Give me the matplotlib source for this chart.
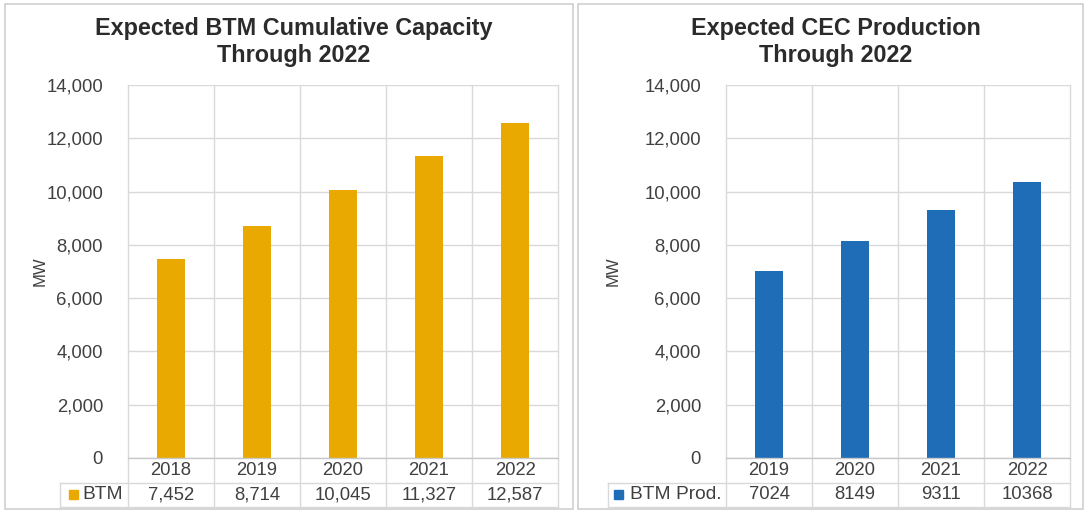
import matplotlib
matplotlib.use("Agg")
import matplotlib.pyplot as plt
from matplotlib.patches import Rectangle
from matplotlib.transforms import blended_transform_factory
from matplotlib.ticker import FuncFormatter

plt.rcParams['font.family'] = ['Liberation Sans', 'DejaVu Sans']

# Behind-the-meter cumulative capacity (MW)
btm_years = ['2018', '2019', '2020', '2021', '2022']
btm_capacity = [7452, 8714, 10045, 11327, 12587]
btm_labels = ['7,452', '8,714', '10,045', '11,327', '12,587']

# Expected CEC production (MW)
cec_years = ['2019', '2020', '2021', '2022']
cec_production = [7024, 8149, 9311, 10368]
cec_labels = ['7024', '8149', '9311', '10368']

y_ticks = [0, 2000, 4000, 6000, 8000, 10000, 12000, 14000]

W, H = 1086, 512
fig = plt.figure(figsize=(W / 100, H / 100), dpi=100)
fig.patch.set_facecolor('white')

GRID = '#D9D9D9'
TXT = '#404040'
FS = 13.3


def px_box(x0, y0, x1, y1):
    return [x0 / W, 1 - y1 / H, (x1 - x0) / W, (y1 - y0) / H]


def panel(frame, plot, title, cats, vals, labels, series, color, key_x0, ylab_x):
    # outer chart frame
    fx0, fy0, fx1, fy1 = frame
    fig.patches.append(Rectangle((fx0 / W, 1 - fy1 / H), (fx1 - fx0) / W, (fy1 - fy0) / H,
                                 transform=fig.transFigure, fill=False,
                                 edgecolor='#D0D0D0', lw=1.2))
    cx = (fx0 + fx1) / 2 + 5
    fig.text(cx / W, 1 - 42 / H, title, ha='center', va='center', fontsize=16.8,
             fontweight='bold', color='#2B2B2B', linespacing=1.2)

    ax = fig.add_axes(px_box(*plot))
    n = len(cats)
    x = list(range(n))
    ax.bar(x, vals, width=0.32, color=color, zorder=3)
    ax.set_xlim(-0.5, n - 0.5)
    ax.set_ylim(0, 14000)
    ax.set_yticks(y_ticks)
    ax.yaxis.set_major_formatter(FuncFormatter(lambda v, p: f'{int(v):,}'))
    ax.tick_params(axis='y', length=0, pad=18, labelsize=FS, labelcolor=TXT)
    ax.set_xticks([])
    for s in ax.spines.values():
        s.set_visible(False)
    ax.grid(axis='y', color=GRID, lw=1, zorder=0)
    fig.text(ylab_x / W, 1 - 271 / H, 'MW', rotation=90, ha='center', va='center',
             fontsize=12, color=TXT)

    plot_h = plot[3] - plot[1]
    row = 24.5 / plot_h
    tr = blended_transform_factory(ax.transData, ax.transAxes)
    tra = blended_transform_factory(ax.transAxes, ax.transAxes)

    # category boundaries run through the plot and data table
    for b in [i - 0.5 for i in range(n + 1)]:
        ax.plot([b, b], [1, -2 * row], transform=tr, color=GRID, lw=1,
                clip_on=False, zorder=1)
    # table row lines
    key_left = (key_x0 - plot[0]) / (plot[2] - plot[0])
    ax.plot([0, 1], [0, 0], transform=tra, color='#C8C8C8', lw=1, clip_on=False, zorder=4)
    for yy in [-row, -2 * row]:
        ax.plot([key_left, 1], [yy, yy], transform=tra, color=GRID, lw=1, clip_on=False)
    ax.plot([key_left, key_left], [-row, -2 * row], transform=tra, color=GRID, lw=1,
            clip_on=False)

    for i in range(n):
        ax.text(i, -0.5 * row, cats[i], transform=tr, ha='center', va='center',
                fontsize=FS, color=TXT)
        ax.text(i, -1.5 * row, labels[i], transform=tr, ha='center', va='center',
                fontsize=FS, color=TXT)

    # series name in the table header cell
    ax.text(-0.012, -1.5 * row, series, transform=tra, ha='right', va='center',
            fontsize=13.8, color=TXT)
    return ax, row


ax1, row1 = panel((5, 4, 573, 509), (128, 85, 558, 458),
                  'Expected BTM Cumulative Capacity\nThrough 2022',
                  btm_years, btm_capacity, btm_labels, 'BTM', '#EAA900', 60, 40)
ax2, row2 = panel((578, 4, 1083, 509), (726, 85, 1070, 458),
                  'Expected CEC Production\nThrough 2022',
                  cec_years, cec_production, cec_labels, 'BTM Prod.', '#1F6DB6', 608, 613)

# legend key squares
for ax, row, kx, col in [(ax1, row1, 69, '#EAA900'), (ax2, row2, 614, '#1F6DB6')]:
    pos = ax.get_position()
    x0 = kx / W
    yc = pos.y0 - 1.5 * row * pos.height
    fig.patches.append(Rectangle((x0, yc - 4.5 / H), 9 / W, 9 / H,
                                 transform=fig.transFigure, color=col))

fig.savefig('out.png', dpi=100, facecolor='white')
